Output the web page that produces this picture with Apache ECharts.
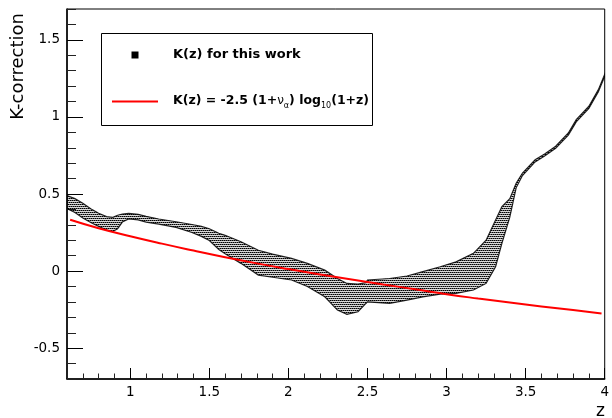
<!DOCTYPE html>
<html>
<head>
<meta charset="utf-8">
<script src="https://cdn.jsdelivr.net/npm/echarts@6/dist/echarts.min.js"></script>
<style>html,body{margin:0;padding:0;background:#fff;}#c{width:612px;height:418px;}</style>
</head>
<body>
<div id="c"></div>
<script>
// Band of K(z) for this work: redshift, upper and lower edges
const zBand = [0.60,0.65,0.70,0.75,0.80,0.85,0.89,0.92,0.95,0.99,1.05,1.10,1.18,1.29,1.39,1.45,1.50,1.56,1.60,1.70,1.81,1.90,2.02,2.12,2.23,2.31,2.37,2.44,2.49,2.50,2.64,2.75,2.85,2.96,3.06,3.17,3.25,3.31,3.35,3.40,3.44,3.48,3.56,3.62,3.69,3.77,3.82,3.90,3.96,4.00];
const kUpper = [0.49,0.47,0.44,0.405,0.375,0.353,0.349,0.362,0.37,0.374,0.368,0.355,0.338,0.32,0.302,0.29,0.275,0.245,0.232,0.19,0.135,0.11,0.082,0.05,0.006,-0.048,-0.08,-0.084,-0.075,-0.058,-0.048,-0.032,-0.004,0.028,0.06,0.115,0.2,0.331,0.418,0.47,0.57,0.636,0.722,0.76,0.81,0.896,0.982,1.069,1.177,1.277];
const kLower = [0.405,0.38,0.345,0.315,0.29,0.266,0.257,0.275,0.318,0.338,0.332,0.318,0.305,0.283,0.25,0.225,0.198,0.14,0.112,0.05,-0.026,-0.04,-0.058,-0.10,-0.167,-0.253,-0.281,-0.264,-0.21,-0.2,-0.21,-0.188,-0.167,-0.149,-0.145,-0.123,-0.08,0.028,0.18,0.35,0.54,0.62,0.708,0.746,0.796,0.882,0.968,1.055,1.163,1.263];
// Red reference curve
const zRed = [0.62,0.8,1.0,1.2,1.4,1.6,1.8,2.0,2.2,2.4,2.6,2.8,3.0,3.2,3.4,3.6,3.8,3.98];
const kRed = [0.333,0.278,0.226,0.178,0.133,0.09,0.05,0.013,-0.022,-0.055,-0.087,-0.118,-0.150,-0.178,-0.204,-0.229,-0.253,-0.275];
// Tick labels
const xMajor = [1,1.5,2,2.5,3,3.5,4];
const yMajor = [-0.5,0,0.5,1,1.5];

const FONT = 'DejaVu Sans';
// dotted fill pattern (rows of dots, alternate rows offset)
const pat = document.createElement('canvas');
pat.width = 4; pat.height = 4;
const pc = pat.getContext('2d');
pc.fillStyle = 'rgba(0,0,0,0.15)';
pc.fillRect(0,1,4,1); pc.fillRect(0,3,4,1);
pc.fillStyle = '#000';
pc.fillRect(0,0,1,1); pc.fillRect(2,0,1,1); pc.fillRect(1,2,1,1); pc.fillRect(3,2,1,1);
pc.fillStyle = 'rgba(0,0,0,0.6)';
pc.fillRect(1,0,1,1); pc.fillRect(3,0,1,1); pc.fillRect(0,2,1,1); pc.fillRect(2,2,1,1);

const bandData = zBand.map((z,i)=>[z,kUpper[i],kLower[i]]);
const redData = zRed.map((z,i)=>[z,kRed[i]]);

const chart = echarts.init(document.getElementById('c'), null, {renderer:'canvas'});
const minorX = {type:'value', min:0.6, max:4, interval:0.1, position:'bottom',
  axisLine:{show:true, onZero:false, lineStyle:{color:'#000', width:1.5}},
  axisTick:{show:true, inside:true, length:5.5, lineStyle:{color:'#222', width:1}},
  axisLabel:{show:false}, splitLine:{show:false}};
const majorX = {type:'value', min:0.6, max:4, position:'bottom',
  axisLine:{show:false, onZero:false},
  axisTick:{show:true, inside:true, length:11, customValues:xMajor, lineStyle:{color:'#000', width:1}},
  axisLabel:{show:true, customValues:xMajor, margin:6, fontSize:13.5, fontFamily:FONT, color:'#000', formatter:v=>String(v)},
  splitLine:{show:false}};
const minorY = {type:'value', min:-0.7, max:1.7, interval:0.1, position:'left',
  axisLine:{show:true, onZero:false, lineStyle:{color:'#000', width:1.5}},
  axisTick:{show:true, inside:true, length:9, lineStyle:{color:'#222', width:1}},
  axisLabel:{show:false}, splitLine:{show:false}};
const majorY = {type:'value', min:-0.7, max:1.7, position:'left',
  axisLine:{show:false, onZero:false},
  axisTick:{show:true, inside:true, length:16, customValues:yMajor, lineStyle:{color:'#000', width:1}},
  axisLabel:{show:true, customValues:yMajor, margin:7, fontSize:13.5, fontFamily:FONT, color:'#000', formatter:v=>String(v)},
  splitLine:{show:false}};

chart.setOption({
  animation:false,
  backgroundColor:'#fff',
  grid:{left:67, right:2, top:9, bottom:39, show:true, borderColor:'#000', borderWidth:1, backgroundColor:'transparent'},
  xAxis:[minorX, majorX],
  yAxis:[minorY, majorY],
  series:[
    {type:'custom', name:'K(z) for this work', data:bandData, encode:{x:0, y:[1,2]}, clip:true, z:2,
     renderItem:function(params, api){
       if (params.dataIndex !== 0) return null;
       const pts = [];
       for (let i = 0; i < zBand.length; i++) pts.push(api.coord([zBand[i], kUpper[i]]));
       for (let i = zBand.length - 1; i >= 0; i--) pts.push(api.coord([zBand[i], kLower[i]]));
       return {type:'polygon', shape:{points:pts},
         style:{fill:{image:pat, repeat:'repeat'}, stroke:'rgba(0,0,0,0.85)', lineWidth:1.2}};
     }},
    {type:'line', name:'red', data:redData, symbol:'none', smooth:true,
     lineStyle:{color:'#ff0000', width:2}, z:3}
  ],
  graphic:[
    {type:'text', x:18, y:13, rotation:Math.PI/2,
     style:{text:'K-correction', font:'18px "DejaVu Sans"', fill:'#000', align:'right', verticalAlign:'middle'}},
    {type:'text', x:605, y:412,
     style:{text:'z', font:'17px "DejaVu Sans"', fill:'#000', align:'right', verticalAlign:'middle'}},
    {type:'rect', shape:{x:101.5, y:33.5, width:271, height:92}, style:{fill:'#fff', stroke:'#000', lineWidth:1}, z:10},
    {type:'rect', shape:{x:131.5, y:51.5, width:7, height:7}, style:{fill:'#000'}, z:11},
    {type:'line', shape:{x1:112, y1:101.5, x2:158, y2:101.5}, style:{stroke:'#ff0000', lineWidth:2}, z:11},
    {type:'text', x:173, y:55, z:11,
     style:{text:'K(z) for this work', font:'bold 13px "DejaVu Sans"', fill:'#000', align:'left', verticalAlign:'middle'}},
    {type:'text', x:173, y:101, z:11,
     style:{text:'{b|K(z) = -2.5 (1+}{n|ν}{s|α}{b|) log}{s|10}{b|(1+z)}', align:'left', verticalAlign:'middle',
       rich:{
         b:{font:'bold 12.5px "DejaVu Sans"', fill:'#000', lineHeight:18},
         n:{font:'12px "DejaVu Sans"', fill:'#000', lineHeight:18},
         s:{font:'8px "DejaVu Sans"', fill:'#000', padding:[10,0,0,0], lineHeight:18}
       }}}
  ]
});
</script>
</body>
</html>
